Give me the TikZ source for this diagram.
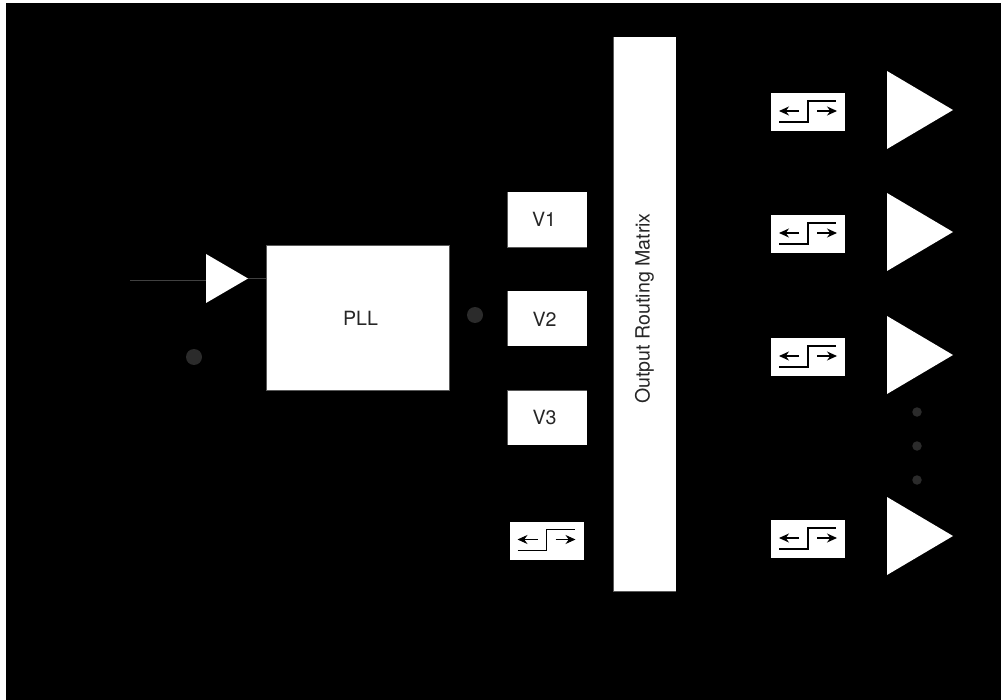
\documentclass[tikz,border=0pt]{standalone}
\usepackage{fontspec}
\setmainfont{TeX Gyre Heros}
\usetikzlibrary{shapes.geometric,arrows.meta}
\tikzset{
  x=1pt,y=-1pt,
  whitebox/.style={fill=white,draw=none,inner sep=0pt,outer sep=0pt,text=black,minimum width=#1},
  buffertri/.style={isosceles triangle,isosceles triangle stretches,shape border rotate=0,fill=white,draw=none,inner sep=0pt,outer sep=0pt,anchor=lower side},
  bigtri/.style={buffertri,minimum height=66pt,minimum width=78pt},
  hystbox/.style={fill=white,inner sep=0pt,outer sep=0pt,minimum width=74pt,minimum height=38pt},
  hystline/.style={black,line width=1.1pt},
  hystarrow/.style={black,line width=1.1pt,-{Stealth[length=10pt,width=9pt]}},
  wire/.style={draw=white!25!black,line width=0.8pt},
  edge/.style={draw=white!35!black,line width=0.7pt},
  bigdot/.style={circle,fill=white!17!black,inner sep=0pt,outer sep=0pt,minimum size=16pt},
  smalldot/.style={circle,fill=white!17!black,inner sep=0pt,outer sep=0pt,minimum size=9.5pt},
  label/.style={font=\fontsize{19.6}{22}\selectfont,inner sep=0pt,text=black!85}
}
\newcommand{\hyst}[2]{%
  \node[hystbox] (#1) at (#2) {};
  \draw[hystline] ([shift={(-29,10)}]#1.center) -- ([shift={(0,10)}]#1.center) -- ([shift={(0,-11)}]#1.center) -- ([shift={(28,-11)}]#1.center);
  \draw[hystarrow] ([shift={(-9,-1)}]#1.center) -- ([shift={(-29,-1)}]#1.center);
  \draw[hystarrow] ([shift={(9,-1)}]#1.center) -- ([shift={(29,-1)}]#1.center);
}
\begin{document}
\begin{tikzpicture}
\useasboundingbox (0,0) rectangle (1001,700);
\fill[white] (0,0) rectangle (1001,700);
\fill[black] (6,3) rectangle (1001,700);
% input
\coordinate (inp) at (130,280);
\node[buffertri,minimum height=42pt,minimum width=49pt] (intri) at (206,278.5) {};
\node[whitebox=183pt,minimum height=145pt] (pll) at (357.5,317.5) {};
\node[label] (pllt) at (360.5,318) {PLL};
\draw[wire] (inp) -- (intri.lower side |- inp);
\draw[wire] (intri.apex) -- (pll.west |- intri.apex);
\draw[edge] (pll.south west) rectangle (pll.north east);
\node[bigdot] (d1) at (194,357) {};
\node[bigdot] (d2) at (475,315) {};
% vcos
\node[whitebox=80pt,minimum height=55pt] (v1) at (547,219.5) {};
\node[whitebox=80pt,minimum height=55pt] (v2) at (547,318.5) {};
\node[whitebox=80pt,minimum height=55pt] (v3) at (547,417.5) {};
\draw[edge] (v1.north west) -- (v1.south west) -- (v1.south east);
\draw[edge] (v2.north west) -- (v2.south west);
\draw[edge] (v3.south west) -- (v3.north west) -- (v3.north east);
\node[label] (v1t) at (544,219.5) {V1};
\node[label] (v2t) at (544.5,319) {V2};
\node[label] (v3t) at (544.5,418) {V3};
\hyst{hl}{546.5,540.5}
% matrix
\node[whitebox=63pt,minimum height=554pt] (orm) at (644.5,314) {};
\draw[edge] (orm.north west) -- (orm.south west) -- (orm.south east);
\node[label,rotate=90] (ormt) at (644.5,308.5) {Output Routing Matrix};
% outputs
\hyst{h1}{808,112}
\hyst{h2}{808,234}
\hyst{h3}{808,357}
\hyst{h4}{808,539}
\node[bigtri] (t1) at (887,110) {};
\node[bigtri] (t2) at (887,232) {};
\node[bigtri] (t3) at (887,355) {};
\node[bigtri] (t4) at (887,536) {};
\node[smalldot] (s1) at (917,412) {};
\node[smalldot] (s2) at (917,446) {};
\node[smalldot] (s3) at (917,480) {};
\end{tikzpicture}
\end{document}
